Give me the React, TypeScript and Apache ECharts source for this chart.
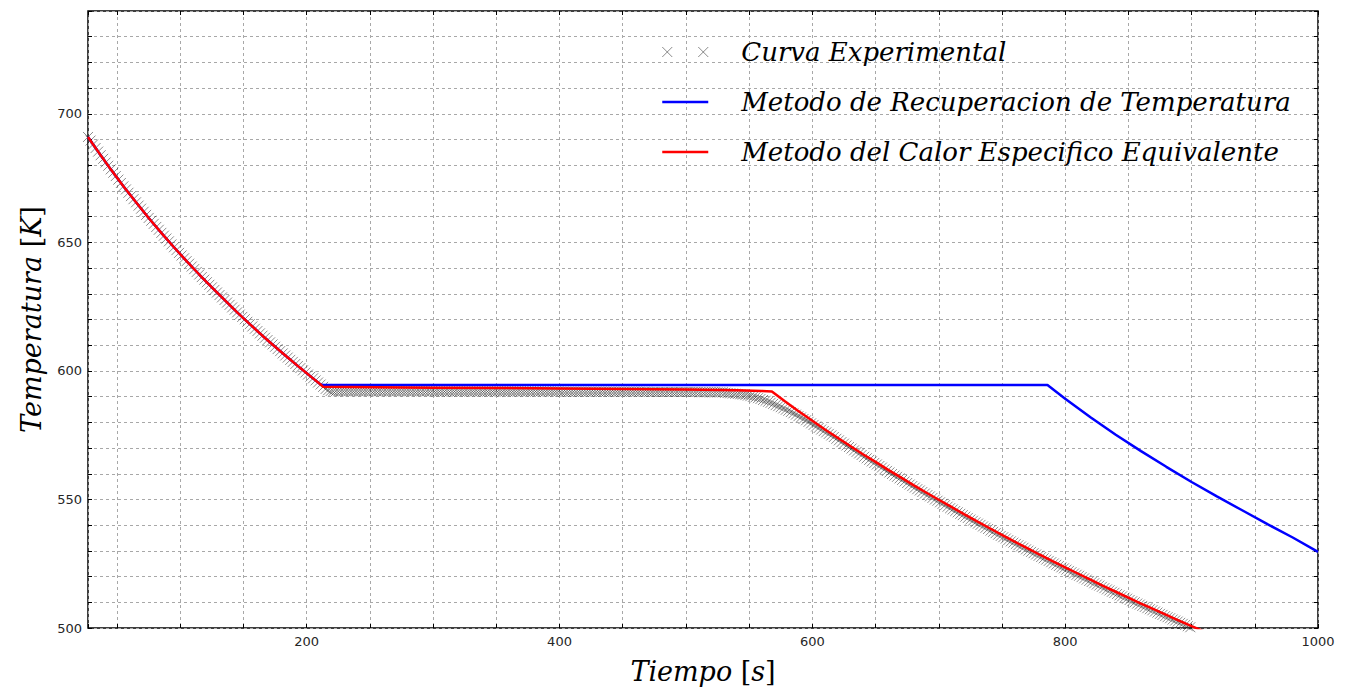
import React, { useEffect, useRef } from "react";
import * as echarts from "echarts";

// Experimental thermocouple record: one sample every 2 s starting at t = 27 s
const EXP_START_S = 27;
const EXP_STEP_S = 2;

// 27 s .. 219 s : cooling of the liquid
const EXP_LIQUID_COOLING_K = [
  691.0, 689.6, 688.1, 686.7, 685.3, 683.9, 682.5, 681.1, 679.8, 678.4,
  677.1, 675.8, 674.4, 673.1, 671.8, 670.6, 669.3, 668.0, 666.8, 665.6,
  664.3, 663.1, 661.9, 660.7, 659.5, 658.4, 657.2, 656.0, 654.9, 653.7,
  652.6, 651.5, 650.4, 649.2, 648.1, 647.0, 645.9, 644.9, 643.8, 642.7,
  641.7, 640.6, 639.6, 638.5, 637.5, 636.5, 635.5, 634.5, 633.5, 632.5,
  631.5, 630.5, 629.5, 628.6, 627.6, 626.6, 625.7, 624.7, 623.8, 622.8,
  621.9, 621.0, 620.1, 619.1, 618.2, 617.3, 616.4, 615.5, 614.6, 613.7,
  612.9, 612.0, 611.1, 610.3, 609.4, 608.5, 607.7, 606.8, 606.0, 605.2,
  604.3, 603.5, 602.7, 601.9, 601.1, 600.2, 599.4, 598.6, 597.8, 597.1,
  596.3, 595.5, 594.7, 593.8, 593.0, 592.5, 592.2,
];

// 221 s .. 529 s : solidification plateau
const EXP_PLATEAU_K = [
  592.1, 592.1, 592.1, 592.1, 592.1, 592.1, 592.1, 592.1, 592.1, 592.1,
  592.1, 592.1, 592.1, 592.1, 592.1, 592.1, 592.1, 592.1, 592.1, 592.1,
  592.1, 592.1, 592.1, 592.1, 592.1, 592.1, 592.1, 592.1, 592.1, 592.1,
  592.1, 592.1, 592.1, 592.1, 592.1, 592.1, 592.1, 592.1, 592.1, 592.1,
  592.0, 592.0, 592.0, 592.0, 592.0, 592.0, 592.0, 592.0, 592.0, 592.0,
  592.0, 592.0, 592.0, 592.0, 592.0, 592.0, 592.0, 592.0, 592.0, 592.0,
  592.0, 592.0, 592.0, 592.0, 592.0, 592.0, 592.0, 592.0, 592.0, 592.0,
  592.0, 592.0, 592.0, 592.0, 592.0, 592.0, 592.0, 592.0, 592.0, 592.0,
  592.0, 592.0, 592.0, 592.0, 592.0, 592.0, 592.0, 592.0, 592.0, 592.0,
  591.9, 591.9, 591.9, 591.9, 591.9, 591.9, 591.9, 591.9, 591.9, 591.9,
  591.9, 591.9, 591.9, 591.9, 591.9, 591.9, 591.9, 591.9, 591.9, 591.9,
  591.9, 591.9, 591.9, 591.9, 591.9, 591.9, 591.9, 591.9, 591.9, 591.9,
  591.9, 591.9, 591.9, 591.9, 591.9,
  591.8, 591.8, 591.8, 591.8, 591.8, 591.8, 591.8, 591.8, 591.8, 591.8,
  591.8, 591.8, 591.8, 591.8, 591.8, 591.8, 591.8, 591.8, 591.8, 591.8,
  591.7, 591.7, 591.7, 591.7, 591.7, 591.7, 591.7, 591.7, 591.7, 591.7,
];

// 531 s .. 915 s : end of solidification and cooling of the solid
const EXP_SOLID_COOLING_K = [
  591.5, 591.4, 591.3, 591.2, 591.1, 591.0, 590.9, 590.8, 590.6, 590.4,
  590.2, 589.9, 589.7, 589.4, 589.1, 588.7, 588.4, 588.0, 587.6, 587.2,
  586.7, 586.3, 585.9, 585.4, 584.9, 584.5, 584.0, 583.5, 583.0, 582.4,
  581.9, 581.3, 580.8, 580.2, 579.6, 579.0, 578.4, 577.8, 577.2, 576.6,
  576.1, 575.5,
  574.9, 574.3, 573.6, 573.0, 572.3, 571.7, 571.0, 570.4, 569.8, 569.1,
  568.5, 567.9, 567.3, 566.6, 566.0, 565.4, 564.8, 564.2, 563.6, 563.0,
  562.4, 561.7, 561.1, 560.5, 559.9, 559.3, 558.8, 558.2, 557.6, 557.0,
  556.4, 555.8, 555.2, 554.6, 554.0, 553.5, 552.9, 552.3, 551.7, 551.2,
  550.6, 550.0, 549.5, 548.9, 548.3, 547.8, 547.2, 546.6, 546.1, 545.5,
  545.0, 544.4, 543.9, 543.3, 542.8, 542.2, 541.7, 541.1, 540.6, 540.1,
  539.5, 539.0, 538.5, 537.9, 537.4, 536.9, 536.3, 535.8, 535.3, 534.8,
  534.2, 533.7, 533.2, 532.7, 532.2, 531.7, 531.2, 530.6, 530.1, 529.6,
  529.1, 528.6, 528.1, 527.6, 527.1, 526.6, 526.1, 525.6, 525.1, 524.6,
  524.1, 523.6, 523.2, 522.7, 522.2, 521.7, 521.2, 520.7, 520.3, 519.8,
  519.3, 518.8, 518.3, 517.9, 517.4, 516.9, 516.5, 516.0, 515.5, 515.0,
  514.6, 514.1, 513.7, 513.2, 512.7, 512.3, 511.8, 511.4, 510.9, 510.4,
  510.0, 509.5, 509.1, 508.6, 508.2, 507.7, 507.3, 506.9, 506.4, 506.0,
  505.5, 505.1, 504.6, 504.2, 503.8, 503.3, 502.9, 502.5, 502.0, 501.6,
  501.2, 500.7, 500.3, 499.9, 499.4, 499.0, 498.6, 498.2, 497.8, 497.3,
  496.9,
];

// Both numerical models share the liquid cooling stage
const MODEL_LIQUID_S = [27, 35, 45, 55, 65, 75, 85, 95, 105, 115, 125, 135, 145, 155, 165, 175, 185, 195, 205, 211];
const MODEL_LIQUID_K = [691.0, 685.3, 678.4, 671.8, 665.6, 659.5, 653.7, 648.1, 642.7, 637.5, 632.5, 627.6, 622.8, 618.2, 613.7, 609.4, 605.2, 601.1, 597.1, 594.7];

// Metodo del Calor Especifico Equivalente
const EQUIV_CP_S = [
  213, 300, 400, 500, 540, 560, 568, 578, 588, 600, 610, 620, 630, 640, 650, 660, 670, 680, 690,
  700, 710, 720, 730, 740, 750, 760, 770, 780, 790, 800, 810, 820, 830, 840, 850, 860, 870, 880,
  890, 900, 950, 1000,
];
const EQUIV_CP_K = [
  593.8, 593.5, 593.2, 592.8, 592.5, 592.2, 592.0, 588.3, 584.7, 580.6, 577.2, 574.0, 570.8, 567.6,
  564.6, 561.5, 558.6, 555.6, 552.7, 549.9, 547.1, 544.3, 541.6, 538.9, 536.2, 533.6, 531.1, 528.5,
  526.0, 523.6, 521.2, 518.8, 516.4, 514.1, 511.8, 509.5, 507.3, 505.1, 502.9, 500.7, 490.4, 480.5,
];

// Metodo de Recuperacion de Temperatura
const RECOVERY_S = [213, 786, 800, 820, 840, 860, 880, 900, 920, 940, 960, 980, 1000];
const RECOVERY_K = [594.5, 594.5, 589.2, 582.0, 575.2, 568.8, 562.7, 556.8, 551.2, 545.8, 540.4, 535.2, 529.6];

const X_TICK_LABELS = [200, 400, 600, 800, 1000];
const Y_TICK_LABELS = [500, 550, 600, 650, 700];

const NAME_EXP = "Curva Experimental";
const NAME_RECOVERY = "Metodo de Recuperacion de Temperatura";
const NAME_EQUIV = "Metodo del Calor Especifico Equivalente";

const SERIF = "'DejaVu Serif', serif";
const SANS = "'DejaVu Sans', sans-serif";

const CROSS = "path://M0,0L10,10M10,0L0,10";
const CROSS_PAIR = "path://M0,0L10,10M10,0L0,10M36,0L46,10M46,0L36,10";
const MARKER_STROKE = "rgba(20,20,20,0.62)";

const pairs = (xs: number[], ys: number[]) => xs.map((x, i) => [x, ys[i]]);

export default function App() {
  const ref = useRef<HTMLDivElement>(null);

  useEffect(() => {
    if (!ref.current) return;
    const chart = echarts.init(ref.current, undefined, { renderer: "svg" });

    const expTemps = [...EXP_LIQUID_COOLING_K, ...EXP_PLATEAU_K, ...EXP_SOLID_COOLING_K];
    const expData = expTemps.map((k, i) => [EXP_START_S + i * EXP_STEP_S, k]);
    const liquid = pairs(MODEL_LIQUID_S, MODEL_LIQUID_K);
    const equivData = [...liquid, ...pairs(EQUIV_CP_S, EQUIV_CP_K)];
    const recoveryData = [...liquid, ...pairs(RECOVERY_S, RECOVERY_K)];

    const gridLine = { show: true, lineStyle: { color: "#a8a8a8", width: 1, type: [3, 3] as number[] } };
    const tick = { show: true, inside: true, length: 4, lineStyle: { color: "#000", width: 1 } };
    const labelStyle = { color: "#262626", fontFamily: SANS, fontSize: 13 };
    const xRange = { type: "value" as const, min: 27, max: 1000, splitNumber: 20, minInterval: 50, maxInterval: 50 };
    const yRange = { type: "value" as const, min: 500, max: 740, interval: 10 };
    const nameRich = {
      i: { fontFamily: SERIF, fontStyle: "italic" as const, fontSize: 27, color: "#000" },
      n: { fontFamily: SERIF, fontStyle: "normal" as const, fontSize: 27, color: "#000" },
    };
    // the line legend entries show only their stroke, no point marker
    const hiddenDot = { opacity: 0 };

    chart.setOption({
      animation: false,
      backgroundColor: "#ffffff",
      grid: {
        left: 88,
        right: 30,
        top: 11,
        bottom: 64,
        show: true,
        borderColor: "#000",
        borderWidth: 1.5,
        backgroundColor: "transparent",
      },
      legend: {
        orient: "vertical",
        left: 661,
        top: 37,
        padding: 0,
        itemGap: 20,
        itemWidth: 46,
        itemHeight: 10,
        selectedMode: false,
        textStyle: {
          fontFamily: SERIF,
          fontStyle: "italic",
          fontSize: 26,
          color: "#000",
          lineHeight: 30,
          padding: [0, 0, 0, 28],
        },
        data: [
          { name: NAME_EXP, icon: CROSS_PAIR, itemStyle: { borderWidth: 1, borderColor: MARKER_STROKE } },
          { name: NAME_RECOVERY, lineStyle: { width: 2.5 }, itemStyle: hiddenDot },
          { name: NAME_EQUIV, lineStyle: { width: 2.5 }, itemStyle: hiddenDot },
        ],
      },
      xAxis: [
        {
          ...xRange,
          position: "bottom",
          axisLine: { show: false },
          axisTick: tick,
          axisLabel: {
            ...labelStyle,
            margin: 7,
            interval: 0,
            formatter: (v: number) => (X_TICK_LABELS.includes(v) ? String(v) : ""),
          },
          splitLine: gridLine,
          name: "{i|Tiempo} {n|[}{i|s}{n|]}",
          nameLocation: "middle",
          nameGap: 30,
          nameTextStyle: { fontFamily: SERIF, fontSize: 27, color: "#000", rich: nameRich },
        },
        {
          ...xRange,
          position: "top",
          axisLine: { show: false },
          axisTick: tick,
          axisLabel: { show: false },
          splitLine: { show: false },
        },
      ],
      yAxis: [
        {
          ...yRange,
          position: "left",
          axisLine: { show: false },
          axisTick: tick,
          axisLabel: {
            ...labelStyle,
            margin: 6,
            formatter: (v: number) => (Y_TICK_LABELS.includes(v) ? String(v) : ""),
          },
          splitLine: gridLine,
          name: "{i|Temperatura} {n|[}{i|K}{n|]}",
          nameLocation: "middle",
          nameGap: 43,
          nameTextStyle: { fontFamily: SERIF, fontSize: 27, color: "#000", rich: nameRich },
        },
        {
          ...yRange,
          position: "right",
          axisLine: { show: false },
          axisTick: tick,
          axisLabel: { show: false },
          splitLine: { show: false },
        },
      ],
      series: [
        {
          type: "scatter",
          name: NAME_EXP,
          xAxisIndex: 0,
          yAxisIndex: 0,
          data: expData,
          symbol: CROSS,
          symbolSize: 10,
          itemStyle: { color: "rgba(0,0,0,0)", borderColor: MARKER_STROKE, borderWidth: 1 },
          silent: true,
          z: 2,
        },
        {
          type: "line",
          name: NAME_RECOVERY,
          xAxisIndex: 0,
          yAxisIndex: 0,
          data: recoveryData,
          symbol: "none",
          showSymbol: false,
          lineStyle: { color: "#0000ff", width: 2.5 },
          itemStyle: { color: "#0000ff" },
          silent: true,
          z: 3,
        },
        {
          type: "line",
          name: NAME_EQUIV,
          xAxisIndex: 0,
          yAxisIndex: 0,
          data: equivData,
          symbol: "none",
          showSymbol: false,
          lineStyle: { color: "#ff0000", width: 2.5 },
          itemStyle: { color: "#ff0000" },
          silent: true,
          z: 4,
        },
      ],
    });

    return () => chart.dispose();
  }, []);

  return (
    <div
      ref={ref}
      style={{ position: "fixed", left: 0, top: 0, width: 1348, height: 692, background: "#fff" }}
    />
  );
}
